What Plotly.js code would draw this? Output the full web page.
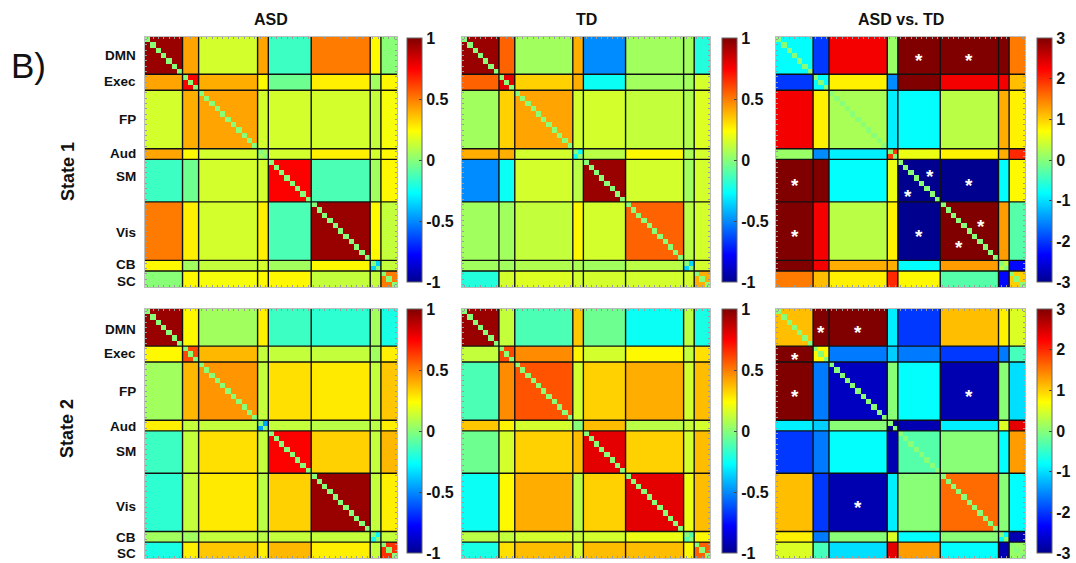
<!DOCTYPE html>
<html>
<head>
<meta charset="utf-8">
<script src="https://cdn.plot.ly/plotly-3.0.1.min.js"></script>
<style>
  html, body { margin: 0; padding: 0; background: #fff; }
  #chart { width: 1076px; height: 563px; }
</style>
</head>
<body>
<div id="chart"></div>
<script>
// Networks (in node order) and the number of nodes in each one
const networks = ['DMN', 'Exec', 'FP', 'Aud', 'SM', 'Vis', 'CB', 'SC'];
const networkSizes = [7, 3, 11, 2, 8, 11, 2, 3];

// Mean between/within-network connectivity, rows and columns in network order
const asdState1 = [
  [ 0.95,  0.42,  0.15,  0.42, -0.15,  0.50,  0.25,  0.00],
  [ 0.42,  0.75,  0.40,  0.25, -0.05,  0.27,  0.05,  0.25],
  [ 0.15,  0.40,  0.42,  0.15,  0.15,  0.15,  0.12,  0.22],
  [ 0.42,  0.25,  0.15,  0.05,  0.15,  0.27,  0.15,  0.25],
  [-0.15, -0.05,  0.15,  0.15,  0.75, -0.12,  0.05,  0.25],
  [ 0.50,  0.27,  0.15,  0.27, -0.12,  0.95,  0.25,  0.12],
  [ 0.25,  0.05,  0.12,  0.15,  0.05,  0.25, -0.35,  0.12],
  [ 0.00,  0.25,  0.22,  0.25,  0.25,  0.12,  0.12,  0.50]
];
const tdState1 = [
  [ 0.95,  0.55,  0.05,  0.40, -0.50,  0.05,  0.05, -0.20],
  [ 0.55,  0.80,  0.33,  0.40, -0.25,  0.05,  0.05,  0.15],
  [ 0.05,  0.33,  0.42,  0.15,  0.15,  0.12,  0.08,  0.17],
  [ 0.40,  0.40,  0.15, -0.25,  0.10,  0.25,  0.07,  0.15],
  [-0.50, -0.25,  0.15,  0.10,  0.95,  0.15,  0.05,  0.15],
  [ 0.05,  0.05,  0.12,  0.25,  0.15,  0.55,  0.10,  0.15],
  [ 0.05,  0.05,  0.08,  0.07,  0.05,  0.10, -0.35,  0.15],
  [-0.20,  0.15,  0.17,  0.15,  0.15,  0.15,  0.15,  0.40]
];
const diffState1 = [
  [-0.8, -2.0,  2.3,  0.1,  3.0,  3.0,  3.0,  1.5],
  [-2.0, -0.8,  0.8, -1.5,  3.0,  2.3,  2.3,  1.1],
  [ 2.3,  0.8,  0.2, -0.9, -0.8,  0.3,  1.2,  0.8],
  [ 0.1, -1.5, -0.9,  1.9,  0.6,  0.8,  1.2,  2.0],
  [ 3.0,  3.0, -0.8,  0.6, -3.0, -3.0, -0.8,  0.75],
  [ 3.0,  2.3,  0.3,  0.8, -3.0,  3.0,  1.3, -0.3],
  [ 3.0,  2.3,  1.2,  1.2, -0.8,  1.3,  0.3, -2.3],
  [ 1.5,  1.1,  0.8,  2.0,  0.75, -0.3, -2.3,  1.0]
];
const asdState2 = [
  [ 0.95,  0.25,  0.05,  0.27, -0.15, -0.18,  0.05, -0.22],
  [ 0.25,  0.60,  0.38,  0.12,  0.12,  0.12,  0.05,  0.27],
  [ 0.05,  0.38,  0.45,  0.12,  0.30,  0.28,  0.12,  0.35],
  [ 0.27,  0.12,  0.12, -0.45,  0.12,  0.10,  0.10,  0.27],
  [-0.15,  0.12,  0.30,  0.12,  0.75,  0.33,  0.12,  0.38],
  [-0.18,  0.12,  0.28,  0.10,  0.33,  0.95,  0.12,  0.27],
  [ 0.05,  0.05,  0.12,  0.10,  0.12,  0.12, -0.25,  0.12],
  [-0.22,  0.27,  0.35,  0.27,  0.38,  0.27,  0.12,  0.65]
];
const tdState2 = [
  [ 0.95,  0.12, -0.12,  0.35, -0.05, -0.25,  0.10, -0.22],
  [ 0.12,  0.60,  0.47,  0.26,  0.15,  0.25,  0.12,  0.30],
  [-0.12,  0.47,  0.58,  0.15,  0.33,  0.40,  0.15,  0.37],
  [ 0.35,  0.26,  0.15,  0.00,  0.37,  0.10,  0.12,  0.15],
  [-0.05,  0.15,  0.33,  0.37,  0.80,  0.33,  0.15,  0.37],
  [-0.25,  0.25,  0.40,  0.10,  0.33,  0.80,  0.20,  0.37],
  [ 0.10,  0.12,  0.15,  0.12,  0.15,  0.20, -0.10,  0.25],
  [-0.22,  0.30,  0.37,  0.15,  0.37,  0.37,  0.25,  0.55]
];
const diffState2 = [
  [ 1.1,  3.0,  3.0, -0.9, -2.0,  1.1,  0.8,  0.5],
  [ 3.0,  0.75, -1.6, -1.1, -1.6, -2.0, -1.6, -0.4],
  [ 3.0, -1.6, -2.7,  0.0, -0.8, -2.8,  0.0, -1.0],
  [-0.9, -1.1,  0.0, -3.0, -2.8, -0.9,  0.5,  2.4],
  [-2.0, -1.6, -0.8, -2.8, -0.3,  0.0, -0.8,  1.3],
  [ 1.1, -2.0, -2.8, -0.9,  0.0,  1.6,  0.0, -0.8],
  [ 0.8, -1.6,  0.0,  0.5, -0.8,  0.0, -0.8, -2.8],
  [ 0.5, -0.4, -1.0,  2.4,  1.3, -0.8, -2.8,  0.1]
];

// Significant ASD vs. TD network pairs [row network, column network]
const sigState1 = [['DMN','SM'], ['DMN','Vis'], ['SM','DMN'], ['Vis','DMN'],
                   ['SM','SM'], ['SM','Vis'], ['Vis','SM'], ['Vis','Vis']];
const sigState2 = [['DMN','Exec'], ['DMN','FP'], ['Exec','DMN'], ['FP','DMN'],
                   ['FP','Vis'], ['Vis','FP']];

const groupTitles = ['ASD', 'TD', 'ASD vs. TD'];
const stateLabels = ['State 1', 'State 2'];
const corrTicks = [-1, -0.5, 0, 0.5, 1];
const corrTickText = ['-1', '-0.5', '0', '0.5', '1'];
const diffTicks = [-3, -2, -1, 0, 1, 2, 3];
const diffTickText = ['-3', '-2', '-1', '0', '1', '2', '3'];

// ---------------------------------------------------------------------------
const W = 1076, H = 563;
const FONT = 'Liberation Sans, Arial, Helvetica, sans-serif';
const jet = [
  [0.000, 'rgb(0,0,143)'],
  [0.111, 'rgb(0,0,255)'],
  [0.365, 'rgb(0,255,255)'],
  [0.619, 'rgb(255,255,0)'],
  [0.873, 'rgb(255,0,0)'],
  [1.000, 'rgb(128,0,0)']
];

// panel placement in pixels
const colX = [[145, 397], [462, 710], [776, 1025]];
const rowY = [[37, 287], [309, 558]];
const cbarX = [407, 722, 1037];
const cbarTop = [38, 309];
const cbarLen = 244;
// network-name rows (pixels from the top) for each state
const labelRowY = [[55, 81, 119, 153, 177, 233, 264, 281], [329, 353, 391, 426, 451, 506, 537, 553]];

// node -> network index, network start offsets
const nodeNet = [];
const netStart = [];
networkSizes.forEach((n, k) => { netStart.push(nodeNet.length); for (let i = 0; i < n; i++) nodeNet.push(k); });
const N = nodeNet.length;
const netCenter = netStart.map((s, k) => s + (networkSizes[k] - 1) / 2);

function expand(block) {
  const z = [];
  for (let i = 0; i < N; i++) {
    const row = [];
    for (let j = 0; j < N; j++) row.push(i === j ? 0 : block[nodeNet[i]][nodeNet[j]]);
    z.push(row);
  }
  return z;
}

const panels = [
  { data: asdState1, diff: false }, { data: tdState1, diff: false }, { data: diffState1, diff: true, sig: sigState1 },
  { data: asdState2, diff: false }, { data: tdState2, diff: false }, { data: diffState2, diff: true, sig: sigState2 }
];

const idx = Array.from({ length: N }, (_, i) => i);
const traces = [];
const layout = {
  width: W, height: H,
  margin: { l: 0, r: 0, t: 0, b: 0 },
  paper_bgcolor: '#fff', plot_bgcolor: '#fff',
  showlegend: false,
  font: { family: FONT, color: '#111' },
  shapes: [], annotations: []
};

panels.forEach((p, k) => {
  const r = Math.floor(k / 3), c = k % 3;
  const id = k === 0 ? '' : String(k + 1);
  const [x0, x1] = colX[c], [y0, y1] = rowY[r];
  const axCommon = {
    showticklabels: false, ticks: 'inside', ticklen: 2, tickwidth: 1, tickcolor: '#9a9a9a',
    tick0: 0, dtick: 1, showline: true, linecolor: '#bdbdbd', linewidth: 1, mirror: 'ticks',
    showgrid: false, zeroline: false, fixedrange: true
  };
  layout['xaxis' + id] = Object.assign({}, axCommon, {
    domain: [x0 / W, x1 / W], range: [-0.5, N - 0.5], anchor: 'y' + id
  });
  layout['yaxis' + id] = Object.assign({}, axCommon, {
    domain: [1 - y1 / H, 1 - y0 / H], range: [N - 0.5, -0.5], anchor: 'x' + id
  });

  traces.push({
    type: 'heatmap', x: idx, y: idx, z: expand(p.data),
    xaxis: 'x' + id, yaxis: 'y' + id,
    colorscale: jet,
    zmin: p.diff ? -3 : -1, zmax: p.diff ? 3 : 1,
    hoverinfo: 'skip',
    colorbar: {
      x: cbarX[c] / W, xanchor: 'left', xpad: 0,
      y: 1 - cbarTop[r] / H, yanchor: 'top', ypad: 0,
      len: cbarLen, lenmode: 'pixels', thickness: 15, thicknessmode: 'pixels',
      outlinewidth: 1, outlinecolor: '#666',
      tickmode: 'array',
      tickvals: p.diff ? diffTicks : corrTicks,
      ticktext: p.diff ? diffTickText : corrTickText,
      ticks: 'inside', ticklen: 3, tickcolor: '#444',
      tickfont: { family: FONT, size: 16, color: '#111', weight: 'bold' }
    }
  });

  // black lines between networks
  let acc = 0;
  for (let b = 0; b < networkSizes.length - 1; b++) {
    acc += networkSizes[b];
    const pos = acc - 0.5;
    const line = { color: '#111', width: 1.4 };
    layout.shapes.push({ type: 'line', xref: 'x' + id, yref: 'y' + id, x0: pos, x1: pos, y0: -0.5, y1: N - 0.5, line });
    layout.shapes.push({ type: 'line', xref: 'x' + id, yref: 'y' + id, y0: pos, y1: pos, x0: -0.5, x1: N - 0.5, line });
  }

  // significance stars
  if (p.sig) {
    p.sig.forEach(([a, b]) => {
      const ia = networks.indexOf(a), ib = networks.indexOf(b);
      const pts = ia === ib
        ? [[netCenter[ib] + 2.1, netCenter[ia] - 1.8], [netCenter[ib] - 2.0, netCenter[ia] + 2.1]]
        : [[netCenter[ib], netCenter[ia]]];
      pts.forEach(([px, py]) => layout.annotations.push({
        xref: 'x' + id, yref: 'y' + id, x: px, y: py, text: '*', showarrow: false,
        font: { family: FONT, size: 19, color: '#fff', weight: 'bold' }, yshift: -5
      }));
    });
  }

  // group titles
  if (r === 0) {
    layout.annotations.push({
      xref: 'paper', yref: 'paper', x: (x0 + x1) / 2 / W, y: 1 - 20 / H,
      xanchor: 'center', yanchor: 'middle', text: groupTitles[c], showarrow: false,
      font: { family: FONT, size: 16, color: '#111', weight: 'bold' }
    });
  }

  // network names down the left
  if (c === 0) {
    networks.forEach((name, n) => layout.annotations.push({
      xref: 'paper', yref: 'paper', x: 137 / W, y: 1 - labelRowY[r][n] / H,
      xanchor: 'right', yanchor: 'middle', text: name, showarrow: false,
      borderpad: 0,
      font: { family: FONT, size: 13.5, color: '#111', weight: 'bold' }
    }));
  }
});

// state labels
[[68, 172], [67, 429]].forEach(([px, py], r) => layout.annotations.push({
  xref: 'paper', yref: 'paper', x: px / W, y: 1 - py / H,
  xanchor: 'center', yanchor: 'middle', textangle: -90, text: stateLabels[r], showarrow: false,
  font: { family: FONT, size: 18, color: '#111', weight: 'bold' }
}));

// panel letter
layout.annotations.push({
  xref: 'paper', yref: 'paper', x: 9 / W, y: 1 - 65 / H,
  xanchor: 'left', yanchor: 'middle', text: 'B)', showarrow: false,
  font: { family: FONT, size: 35, color: '#111' }
});

Plotly.newPlot('chart', traces, layout, { staticPlot: true, displayModeBar: false });
</script>
</body>
</html>
